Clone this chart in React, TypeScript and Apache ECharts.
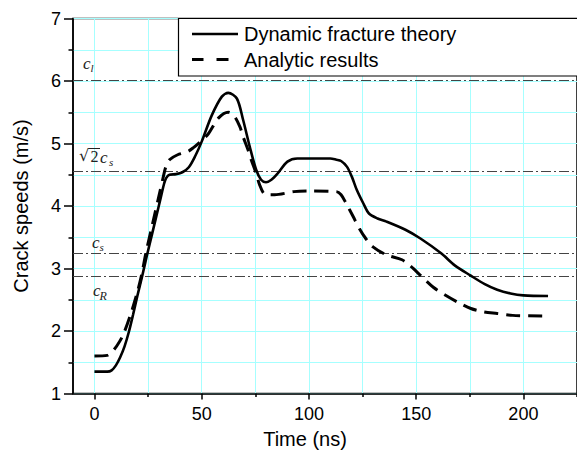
import React, { useEffect, useRef } from "react";
import * as echarts from "echarts";

// ---- data ----
const timeSolid = [0, 6, 8, 10, 12, 14, 16, 18, 20, 22.3, 24.4, 27, 30, 31.5, 32.5, 33.5, 35, 38, 41, 44, 47, 50, 54.7, 59.4, 62.4, 66.4, 69.3, 72.4, 75.4, 77.7, 80, 82.5, 85.4, 90, 94.6, 100, 110, 112.8, 115, 117.7, 120, 122.3, 125.4, 128, 132, 136.2, 145, 152, 161.8, 168, 175.5, 182, 187.8, 194, 200, 211.5];
const speedSolid = [1.35, 1.35, 1.37, 1.45, 1.58, 1.75, 1.98, 2.26, 2.56, 2.885, 3.2, 3.57, 4.0, 4.22, 4.36, 4.45, 4.5, 4.51, 4.54, 4.62, 4.8, 5.03, 5.45, 5.75, 5.81, 5.72, 5.38, 4.95, 4.58, 4.42, 4.38, 4.42, 4.52, 4.71, 4.76, 4.76, 4.76, 4.74, 4.72, 4.63, 4.47, 4.26, 4.04, 3.88, 3.8, 3.75, 3.62, 3.48, 3.24, 3.05, 2.885, 2.75, 2.66, 2.6, 2.57, 2.56];

const timeDashed = [0, 6, 8, 10.4, 13.4, 17.3, 20.3, 22, 24, 27, 30, 32, 33.3, 35, 38.8, 43.4, 46, 49.4, 53.2, 57.9, 62.4, 65, 67.8, 69.3, 71.6, 73.1, 75.4, 77, 79, 81.5, 84, 93, 100, 112.8, 115, 117.4, 120.5, 123.5, 126.5, 129.7, 136, 143.4, 147, 152.6, 158, 163.3, 170, 175.5, 181, 187.8, 195, 210.7];
const speedDashed = [1.6, 1.61, 1.66, 1.76, 1.94, 2.31, 2.66, 2.9, 3.25, 3.7, 4.15, 4.45, 4.63, 4.74, 4.82, 4.87, 4.93, 5.03, 5.16, 5.41, 5.5, 5.45, 5.27, 5.11, 4.9, 4.74, 4.52, 4.34, 4.2, 4.18, 4.18, 4.23, 4.24, 4.23, 4.18, 4.04, 3.84, 3.64, 3.48, 3.35, 3.22, 3.14, 3.05, 2.87, 2.7, 2.58, 2.45, 2.36, 2.31, 2.28, 2.25, 2.24];

const refNames = ["c_l", "sqrt2_cs", "c_s", "c_R"];
const refValues = [6.02, 4.56, 3.24, 2.885];

const xMajorTicks = [0, 50, 100, 150, 200];
const xMinorTicks = [25, 75, 125, 175, 225];

const seriesNames = ["Dynamic fracture theory", "Analytic results"];

const FONT = "Arial";
const SERIF = "Liberation Serif";
const CYAN = "#a6ffff";

export default function App() {
  const ref = useRef<HTMLDivElement>(null);

  useEffect(() => {
    if (!ref.current) return;
    const chart = echarts.init(ref.current, null, { renderer: "svg" });

    const solidData = timeSolid.map((t, i) => [t, speedSolid[i]]);
    const dashedData = timeDashed.map((t, i) => [t, speedDashed[i]]);

    const txt = (text: string, x: number, y: number, size: number, italic = true, family = SERIF) => ({
      type: "text",
      x,
      y,
      z: 50,
      style: {
        text,
        fontFamily: family,
        fontSize: size,
        fontStyle: italic ? "italic" : "normal",
        fill: "#222",
        align: "left",
        verticalAlign: "middle",
      },
    });

    const option: any = {
      animation: false,
      grid: { left: 73, top: 18.5, right: -7, bottom: 62.5, show: true, borderColor: "#000", borderWidth: 1.5, backgroundColor: "transparent" },
      xAxis: [
        {
          type: "value",
          min: -10,
          max: 225,
          position: "bottom",
          axisLine: { show: true, onZero: false, lineStyle: { color: "#000", width: 1.5 } },
          axisTick: { show: true, inside: false, length: 6, customValues: xMajorTicks, lineStyle: { color: "#000", width: 1.5 } },
          axisLabel: { show: true, customValues: xMajorTicks, margin: 11, color: "#000", fontSize: 18, fontFamily: FONT },
          splitLine: { show: true, lineStyle: { color: CYAN, width: 1 } },
          name: "Time (ns)",
          nameLocation: "middle",
          nameGap: 35,
          nameTextStyle: { color: "#000", fontSize: 20, fontFamily: FONT, padding: [0, 40, 0, 0] },
        },
        {
          type: "value",
          min: -10,
          max: 225,
          position: "bottom",
          axisLine: { show: false, onZero: false },
          axisTick: { show: true, inside: false, length: 3.5, customValues: xMinorTicks, lineStyle: { color: "#000", width: 1.5 } },
          axisLabel: { show: false, customValues: xMinorTicks },
          splitLine: { show: true, lineStyle: { color: CYAN, width: 1 } },
        },
      ],
      yAxis: {
        type: "value",
        min: 1,
        max: 7,
        interval: 1,
        axisLine: { show: true, onZero: false, lineStyle: { color: "#000", width: 1.5 } },
        axisTick: { show: true, inside: false, length: 9, lineStyle: { color: "#000", width: 1.5 } },
        minorTick: { show: true, splitNumber: 2, length: 4.5, lineStyle: { color: "#000", width: 1.5 } },
        axisLabel: { margin: 12, color: "#000", fontSize: 18, fontFamily: FONT },
        splitLine: { show: true, lineStyle: { color: CYAN, width: 1 } },
        minorSplitLine: { show: true, lineStyle: { color: CYAN, width: 1 } },
        name: "Crack speeds (m/s)",
        nameLocation: "middle",
        nameGap: 42,
        nameTextStyle: { color: "#000", fontSize: 20, fontFamily: FONT },
      },
      series: [
        {
          name: seriesNames[0],
          type: "line",
          data: solidData,
          showSymbol: false,
          symbol: "none",
          smooth: 0.3,
          z: 10,
          lineStyle: { color: "#000", width: 2.6, type: "solid" },
          markLine: {
            silent: true,
            symbol: ["none", "none"],
            label: { show: false },
            lineStyle: { color: "#444", width: 1.2, type: [10, 3, 2, 3] },
            data: refValues.map((v, i) => ({ name: refNames[i], yAxis: v })),
          },
        },
        {
          name: seriesNames[1],
          type: "line",
          data: dashedData,
          showSymbol: false,
          symbol: "none",
          smooth: 0.3,
          z: 10,
          lineStyle: { color: "#000", width: 3, type: [14, 8] },
        },
      ],
      graphic: [
        // legend
        {
          type: "rect",
          z: 40,
          shape: { x: 178.5, y: 18.5, width: 420, height: 57.5 },
          style: { fill: "#fff", stroke: "#000", lineWidth: 1.2 },
        },
        {
          type: "line",
          z: 41,
          shape: { x1: 192, y1: 34, x2: 238, y2: 34 },
          style: { stroke: "#000", lineWidth: 2.6 },
        },
        {
          type: "line",
          z: 41,
          shape: { x1: 192, y1: 59.5, x2: 203.5, y2: 59.5 },
          style: { stroke: "#000", lineWidth: 3 },
        },
        {
          type: "line",
          z: 41,
          shape: { x1: 216.5, y1: 59.5, x2: 228.5, y2: 59.5 },
          style: { stroke: "#000", lineWidth: 3 },
        },
        {
          type: "text",
          z: 41,
          x: 244,
          y: 34,
          style: { text: seriesNames[0], fontFamily: FONT, fontSize: 20, fill: "#000", align: "left", verticalAlign: "middle" },
        },
        {
          type: "text",
          z: 41,
          x: 244,
          y: 60,
          style: { text: seriesNames[1], fontFamily: FONT, fontSize: 20, fill: "#000", align: "left", verticalAlign: "middle" },
        },
        // reference line labels
        txt("c", 83, 63, 17),
        txt("l", 90.5, 68, 11),
        txt("√", 79, 155, 16, false, "DejaVu Serif"),
        { type: "line", z: 50, shape: { x1: 88.5, y1: 148.5, x2: 100, y2: 148.5 }, style: { stroke: "#222", lineWidth: 1 } },
        txt("2", 90.5, 156, 16, false),
        txt("c", 100, 157, 17),
        txt("s", 109, 161.5, 11),
        txt("c", 92, 242, 17),
        txt("s", 99.5, 247, 11),
        txt("c", 93, 290.5, 17),
        txt("R", 99.5, 296, 12),
      ],
    };

    chart.setOption(option);
    return () => chart.dispose();
  }, []);

  return (
    <div
      ref={ref}
      style={{ position: "fixed", left: 0, top: 0, width: 577, height: 456, background: "#fff" }}
    />
  );
}
